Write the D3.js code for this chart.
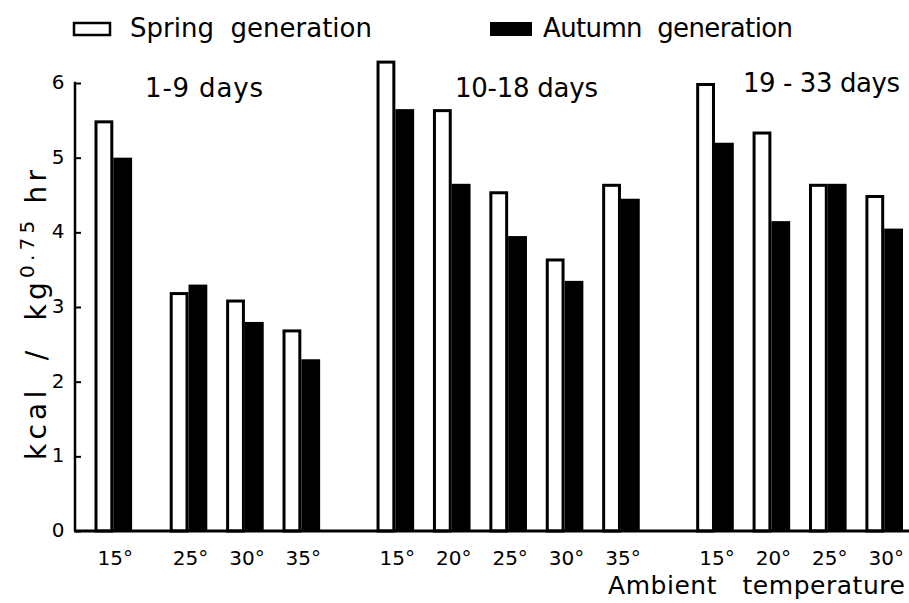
<!DOCTYPE html>
<html>
<head>
<meta charset="utf-8">
<script src="https://cdn.jsdelivr.net/npm/d3@7"></script>
<style>
  body { margin: 0; background: #fff; }
  text { font-family: "DejaVu Sans", sans-serif; fill: #000; white-space: pre; }
</style>
</head>
<body>
<div id="chart"></div>
<script>
// Data
var groupLabels = ["1-9 days", "10-18 days", "19 - 33 days"];
var temps1 = ["15°", "25°", "30°", "35°"];
var temps2 = ["15°", "20°", "25°", "30°", "35°"];
var temps3 = ["15°", "20°", "25°", "30°"];
var spring1 = [5.5, 3.2, 3.1, 2.7];
var autumn1 = [5.0, 3.3, 2.8, 2.3];
var spring2 = [6.3, 5.65, 4.55, 3.65, 4.65];
var autumn2 = [5.65, 4.65, 3.95, 3.35, 4.45];
var spring3 = [6.0, 5.35, 4.65, 4.5];
var autumn3 = [5.2, 4.15, 4.65, 4.05];
var yTicks = [0, 1, 2, 3, 4, 5, 6];
var seriesNames = ["Spring  generation", "Autumn  generation"];

var svgWidth = 909;
var svgHeight = 603;

var svg = d3.select("#chart")
  .append("svg")
  .attr("width", svgWidth)
  .attr("height", svgHeight);

var groups = [
  { label: groupLabels[0], temps: temps1, spring: spring1, autumn: autumn1 },
  { label: groupLabels[1], temps: temps2, spring: spring2, autumn: autumn2 },
  { label: groupLabels[2], temps: temps3, spring: spring3, autumn: autumn3 }
];

// Build slot list: 2 slots per pair, 1 slot between pairs,
// 1 extra slot for a skipped temperature, 3 slots between groups
var allTemps = ["15°", "20°", "25°", "30°", "35°"];
var slots = [];
var bars = [];
var tickPairs = [];
groups.forEach(function(g, gi) {
  if (gi > 0) { slots.push("g" + gi + "a", "g" + gi + "b", "g" + gi + "c"); }
  var prevIdx = null;
  g.temps.forEach(function(t, i) {
    var idx = allTemps.indexOf(t);
    if (prevIdx !== null) {
      slots.push("gap" + gi + "_" + i);
      if (idx - prevIdx > 1) slots.push("skip" + gi + "_" + i);
    }
    prevIdx = idx;
    var sKey = gi + "_" + t + "_s";
    var aKey = gi + "_" + t + "_a";
    slots.push(sKey, aKey);
    bars.push({ key: sKey, value: g.spring[i], type: "spring" });
    bars.push({ key: aKey, value: g.autumn[i], type: "autumn" });
    tickPairs.push({ s: sKey, a: aKey, label: t, group: gi });
  });
});

var x = d3.scaleBand()
  .domain(slots)
  .range([94.5, 903])
  .padding(0);

var y = d3.scaleLinear()
  .domain([0, 6])
  .range([531, 83]);

// Bars (spring = open, autumn = solid)
svg.selectAll("rect.bar")
  .data(bars)
  .enter()
  .append("rect")
  .attr("class", "bar")
  .attr("x", d => x(d.key) + (d.type === "spring" ? 1.5 : 0))
  .attr("y", d => y(d.value) + (d.type === "spring" ? 1.5 : 0))
  .attr("width", d => x.bandwidth() - (d.type === "spring" ? 3 : 0))
  .attr("height", d => y(0) - y(d.value) - (d.type === "spring" ? 1.5 : 0))
  .attr("fill", d => d.type === "spring" ? "#fff" : "#000")
  .attr("stroke", d => d.type === "spring" ? "#000" : "none")
  .attr("stroke-width", 3);

// Y axis, ticks pointing inward
var leftAxis = d3.axisRight(y)
  .tickValues(yTicks)
  .tickSize(6)
  .tickFormat("");

var yAxisG = svg.append("g")
  .attr("transform", "translate(75, 0)")
  .call(leftAxis);
yAxisG.select(".domain").attr("stroke-width", 2.5).attr("d", "M1,83H0V531");
yAxisG.selectAll(".tick line").attr("stroke-width", 2);

svg.selectAll("text.ylab")
  .data(yTicks)
  .enter()
  .append("text")
  .attr("class", "ylab")
  .attr("x", 58)
  .attr("y", d => y(d) + 6)
  .attr("text-anchor", "middle")
  .style("font-size", "20px")
  .text(d => d);

// Baseline
svg.append("line")
  .attr("x1", 74).attr("x2", 909)
  .attr("y1", y(0)).attr("y2", y(0))
  .attr("stroke", "#000")
  .attr("stroke-width", 3);

// X tick labels
svg.selectAll("text.xlab")
  .data(tickPairs)
  .enter()
  .append("text")
  .attr("class", "xlab")
  .attr("x", d => x(d.a) + 2)
  .attr("y", 565)
  .attr("text-anchor", "middle")
  .style("font-size", "20px")
  .text(d => d.label);

// Group labels
var groupLabelPos = [[145, 97, 118], [455, 97, 143], [743, 92, 157]];
svg.selectAll("text.glab")
  .data(groupLabels)
  .enter()
  .append("text")
  .attr("class", "glab")
  .attr("x", (d, i) => groupLabelPos[i][0])
  .attr("y", (d, i) => groupLabelPos[i][1])
  .attr("textLength", (d, i) => groupLabelPos[i][2])
  .attr("lengthAdjust", "spacing")
  .style("font-size", "26px")
  .text(d => d);

// Legend
svg.append("rect")
  .attr("x", 74).attr("y", 23).attr("width", 36).attr("height", 12)
  .attr("fill", "#fff").attr("stroke", "#000").attr("stroke-width", 2.5);
svg.append("rect")
  .attr("x", 490).attr("y", 22).attr("width", 42).attr("height", 14)
  .attr("fill", "#000");
svg.append("text")
  .attr("x", 130).attr("y", 37)
  .attr("textLength", 242)
  .attr("lengthAdjust", "spacing")
  .style("font-size", "26px")
  .text(seriesNames[0]);
svg.append("text")
  .attr("x", 543).attr("y", 37)
  .attr("textLength", 250)
  .attr("lengthAdjust", "spacing")
  .style("font-size", "26px")
  .text(seriesNames[1]);

// Axis titles
var yTitle = svg.append("text")
  .attr("transform", "translate(46, 315) rotate(-90)")
  .attr("text-anchor", "middle")
  .attr("textLength", 290)
  .attr("lengthAdjust", "spacing")
  .style("font-size", "28px");
yTitle.append("tspan").text("kcal  /  kg");
yTitle.append("tspan").attr("dy", -12).style("font-size", "20px").text("0.75");
yTitle.append("tspan").attr("dy", 12).text(" hr");

svg.append("text")
  .attr("x", 608).attr("y", 594)
  .attr("textLength", 297)
  .attr("lengthAdjust", "spacing")
  .style("font-size", "25px")
  .text("Ambient   temperature");
</script>
</body>
</html>
